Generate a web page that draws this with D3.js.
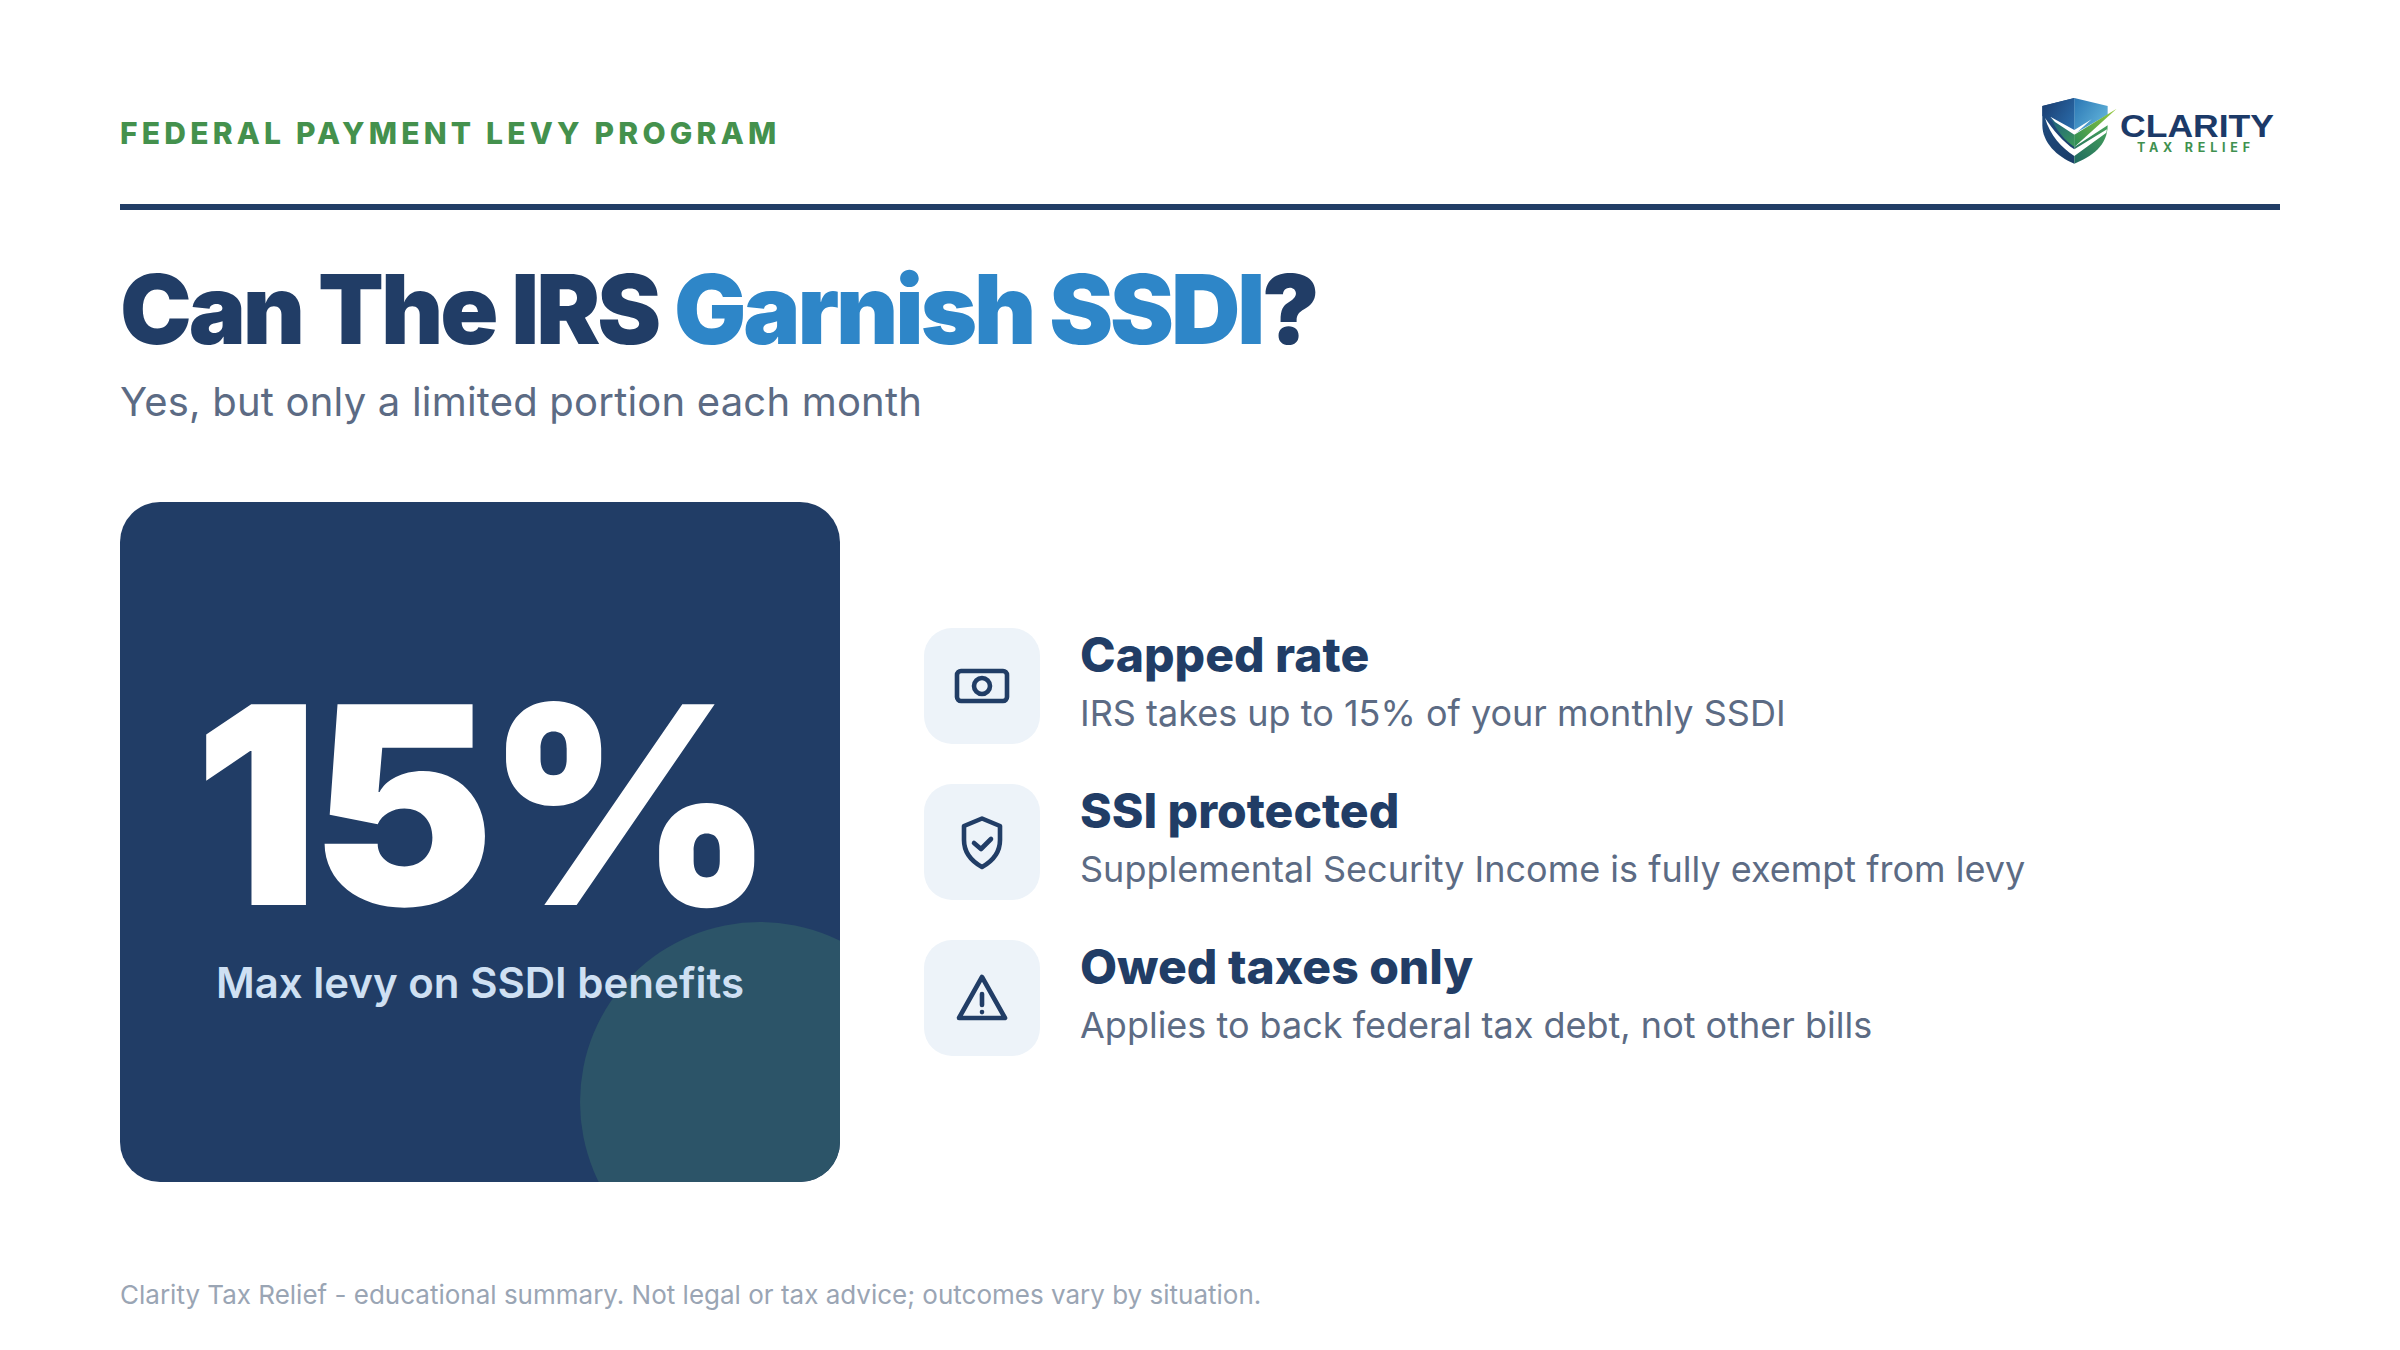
<!DOCTYPE html>
<html><head><meta charset="utf-8">
<script src="https://cdn.jsdelivr.net/npm/d3@7/dist/d3.min.js"></script>
<style>html,body{margin:0;padding:0;background:#fff}svg{display:block}text{font-family:Inter,sans-serif}</style>
</head><body>
<script>
const eyebrow = "FEDERAL PAYMENT LEVY PROGRAM";
const titleParts = ["Can The IRS ", "Garnish SSDI", "?"];
const subtitle = "Yes, but only a limited portion each month";
const statValue = [15];
const statLabel = "Max levy on SSDI benefits";
const rowTitles = ["Capped rate", "SSI protected", "Owed taxes only"];
const rowTexts = ["IRS takes up to 15% of your monthly SSDI", "Supplemental Security Income is fully exempt from levy", "Applies to back federal tax debt, not other bills"];
const rowIcons = ["money", "shield", "alert"];
const footer = "Clarity Tax Relief - educational summary. Not legal or tax advice; outcomes vary by situation.";

const NAVY = "#213d66", BLUE = "#2e86c8", GREEN = "#44914d", GRAY = "#5c6b84";
const svg = d3.select("body").append("svg").attr("width", 2400).attr("height", 1350);
svg.append("rect").attr("width", 2400).attr("height", 1350).attr("fill", "#fff");

svg.append("text").attr("x", 120).attr("y", 144).attr("font-size", 30).attr("font-weight", 800)
  .attr("letter-spacing", 4.2).attr("fill", GREEN).text(eyebrow);
svg.append("rect").attr("x", 120).attr("y", 204).attr("width", 2160).attr("height", 6).attr("fill", NAVY);

const title = svg.append("text").attr("x", 120).attr("y", 344).attr("font-size", 96).attr("font-weight", 900).attr("letter-spacing", -3.1).attr("xml:space", "preserve");
title.selectAll("tspan").data(titleParts).join("tspan").attr("fill", (d, i) => i === 1 ? BLUE : NAVY).text(d => d);
svg.append("text").attr("x", 120).attr("y", 416).attr("font-size", 40).attr("font-weight", 400).attr("letter-spacing", 0.2).attr("fill", GRAY).text(subtitle);

// Stat card
const defs = svg.append("defs");
defs.append("clipPath").attr("id", "card").append("rect").attr("x", 120).attr("y", 502).attr("width", 720).attr("height", 680).attr("rx", 40);
svg.append("rect").attr("x", 120).attr("y", 502).attr("width", 720).attr("height", 680).attr("rx", 40).attr("fill", NAVY);
svg.append("circle").attr("clip-path", "url(#card)").attr("cx", 760).attr("cy", 1102).attr("r", 180).attr("fill", "#2c5468");
svg.append("text").attr("x", 480).attr("y", 905).attr("text-anchor", "middle").attr("font-size", 276).attr("font-weight", 900).attr("letter-spacing", -8.3).attr("fill", "#fff").text(statValue[0] + "%");
svg.append("text").attr("x", 480).attr("y", 998).attr("text-anchor", "middle").attr("font-size", 42).attr("font-weight", 600).attr("fill", "#cfe0f3").text(statLabel);

// Rows
const yRow = d3.scalePoint().domain(rowTitles).range([628, 940]);
const rows = svg.selectAll("g.row").data(rowTitles).join("g").attr("class", "row").attr("transform", d => `translate(0,${yRow(d)})`);
rows.append("rect").attr("x", 924).attr("width", 116).attr("height", 116).attr("rx", 28).attr("fill", "#edf3f9");
rows.append("text").attr("x", 1080).attr("y", 44).attr("font-size", 48).attr("font-weight", 800).attr("fill", NAVY).text(d => d);
rows.append("text").attr("x", 1080).attr("y", 98).attr("font-size", 36).attr("font-weight", 400).attr("fill", GRAY).text((d, i) => rowTexts[i]);

const icon = rows.append("g").attr("transform", "translate(982,58)").attr("fill", "none").attr("stroke", NAVY).attr("stroke-width", 4.6).attr("stroke-linecap", "round").attr("stroke-linejoin", "round");
icon.each(function (d, i) {
  const g = d3.select(this);
  if (rowIcons[i] === "money") {
    g.append("rect").attr("x", -25).attr("y", -15).attr("width", 50).attr("height", 30).attr("rx", 4);
    g.append("circle").attr("r", 8);
  } else if (rowIcons[i] === "shield") {
    g.append("path").attr("d", "M0,-23.5 L18,-16 V-2 C18,12 9,20 0,25 C-9,20 -18,12 -18,-2 V-16 Z");
    g.append("path").attr("d", "M-8,1 L-1,7 L9,-3");
  } else {
    g.append("path").attr("d", "M0,-21 L23,20 H-23 Z");
    g.append("path").attr("d", "M0,-4 V7");
    g.append("path").attr("d", "M0,14 V14.1");
  }
});

svg.append("text").attr("x", 120).attr("y", 1304).attr("font-size", 26).attr("fill", "#9aa5b4").text(footer);

// Logo
const gr = (id, x1, y1, x2, y2, stops) => {
  const l = defs.append("linearGradient").attr("id", id).attr("gradientUnits", "userSpaceOnUse").attr("x1", x1).attr("y1", y1).attr("x2", x2).attr("y2", y2);
  stops.forEach(([o, c]) => l.append("stop").attr("offset", o).attr("stop-color", c));
};
gr("lgL", 22, 40, 118, 100, [[0, "#1b3f72"], [1, "#2a6cab"]]);
gr("lgLow", 30, 90, 118, 215, [[0, "#1f4a7c"], [1, "#1a3c68"]]);
gr("lgR", 118, 20, 218, 90, [[0, "#2a76b4"], [1, "#62b4da"]]);
gr("lgG", 118, 150, 245, 50, [[0, "#2f8f55"], [1, "#9acb3c"]]);
gr("lgArm", 48, 80, 118, 165, [[0, "#1e5e80"], [1, "#3b9a58"]]);
gr("lgB", 118, 215, 218, 110, [[0, "#1f6a60"], [1, "#45a05a"]]);
const logo = svg.append("g").attr("transform", "translate(2035,92) scale(0.3333)");
logo.append("path").attr("d", "M118,18 L22,42 V100 C22,150 65,195 118,215 Z").attr("fill", "url(#lgLow)");
logo.append("path").attr("d", "M118,18 L22,42 V72 L118,125 Z").attr("fill", "url(#lgL)");
logo.append("path").attr("d", "M118,18 L218,42 V68 L118,125 Z").attr("fill", "url(#lgR)");
logo.append("path").attr("d", "M118,215 C170,195 218,160 218,100 L118,165 Z").attr("fill", "url(#lgB)");
logo.append("path").attr("d", "M30,78 C45,130 80,168 118,192 L214,122 L216,112 L118,172 C85,150 55,115 30,78 Z").attr("fill", "#fff");
logo.append("path").attr("d", "M48,78 L118,128 L118,165 C90,145 62,115 48,78 Z").attr("fill", "url(#lgArm)");
logo.append("path").attr("d", "M46,74 L118,114 L170,82 L118,128 L60,90 Z").attr("fill", "#fff");
logo.append("path").attr("d", "M245,50 L118,128 L118,165 Z").attr("fill", "url(#lgG)");
svg.append("text").attr("x", 2120).attr("y", 136.5).style("font-family", "'Liberation Sans'").attr("font-size", 32).attr("font-weight", 700).attr("fill", "#1c3a68").attr("textLength", 154).attr("lengthAdjust", "spacingAndGlyphs").text("CLARITY");
svg.append("text").attr("x", 2137).attr("y", 152).attr("font-size", 12.5).attr("font-weight", 700).attr("fill", "#3f9150").attr("textLength", 113).attr("lengthAdjust", "spacing").text("TAX RELIEF");
</script>
</body></html>
